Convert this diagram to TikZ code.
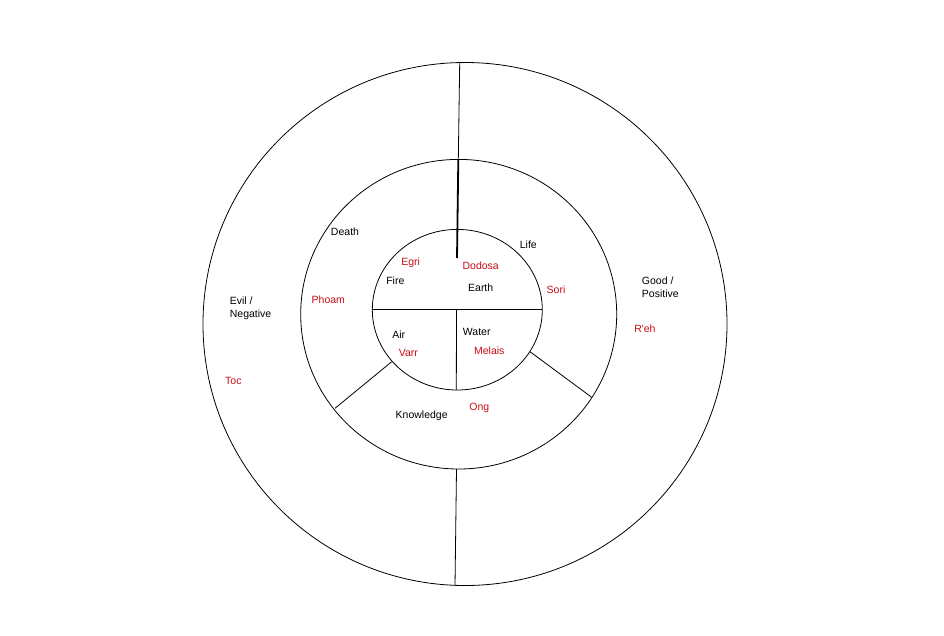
\documentclass[tikz,border=0pt]{standalone}
\usepackage{fontspec}
\setmainfont{Liberation Sans}
\definecolor{namered}{RGB}{200,12,22}
\tikzset{
  every picture/.style={
    line width=0.8pt
  },
  ring/.style={draw=black},
  divider/.style={draw=black},
  realm/.style={font=\fontsize{10.5}{13}\selectfont, text=black, inner sep=0pt},
  spirit/.style={realm, text=namered}
}

\begin{document}
\begin{tikzpicture}[x=1pt, y=-1pt]
  \useasboundingbox (0,0) rectangle (944,635);

  % the three rings
  \draw[ring] (465,324) ellipse [x radius=262, y radius=261.5];
  \draw[ring] (458.7,314.2) ellipse [x radius=158, y radius=154.8];
  \draw[ring] (457.3,309.7) ellipse [x radius=85, y radius=80.3];

  % end points on the rings
  \coordinate (outtop) at (459.7,63);
  \coordinate (midtop) at (458.3,159.5);
  \coordinate (intop)  at (457,258);
  \coordinate (inleft) at (372.3,309.3);
  \coordinate (inright) at (542.3,309.3);
  \coordinate (incentre) at (456.5,309.3);
  \coordinate (inbottom) at (456.3,390);
  \coordinate (midbottom) at (456.5,469);
  \coordinate (outbottom) at (455,586);
  \coordinate (inairknow) at (391.7,361.7);
  \coordinate (midairknow) at (335,408.3);
  \coordinate (inwaterknow) at (530,351.7);
  \coordinate (midwaterknow) at (591.7,397.3);

  \draw[divider] (outtop) -- (midtop);
  \draw[divider, line width=1.8pt] (midtop) -- (intop);
  \draw[divider] (inleft) -- (inright);
  \draw[divider] (incentre) -- (inbottom);
  \draw[divider] (midbottom) -- (outbottom);
  \draw[divider] (inairknow) -- (midairknow);
  \draw[divider] (inwaterknow) -- (midwaterknow);

  % inner ring: elements
  \node[realm] (fire) at (395.3,281) {Fire};
  \node[spirit] (egri) at (410.7,262.7) {Egri};
  \node[realm] (earth) at (480.7,287.7) {Earth};
  \node[spirit] (dodosa) at (480.7,266) {Dodosa};
  \node[realm] (air) at (398.7,335) {Air};
  \node[spirit] (varr) at (408.3,352.7) {Varr};
  \node[realm] (water) at (476.7,332.3) {Water};
  \node[spirit] (melais) at (489.3,351) {Melais};

  % middle ring
  \node[realm] (death) at (345,231.7) {Death};
  \node[spirit] (phoam) at (328.3,300) {Phoam};
  \node[realm] (life) at (528.3,244.3) {Life};
  \node[spirit] (sori) at (556,290) {Sori};
  \node[realm] (know) at (421.7,415.7) {Knowledge};
  \node[spirit] (ong) at (479.3,408.3) {Ong};

  % outer ring
  \node[realm, anchor=west, align=left] (evil) at (229.5,308.4) {Evil /\\Negative};
  \node[spirit] (toc) at (233.4,380.7) {Toc};
  \node[realm, anchor=west, align=left] (good) at (641.5,287.2) {Good /\\Positive};
  \node[spirit] (reh) at (644.9,328.6) {R\textquotesingle eh};
\end{tikzpicture}
\end{document}
